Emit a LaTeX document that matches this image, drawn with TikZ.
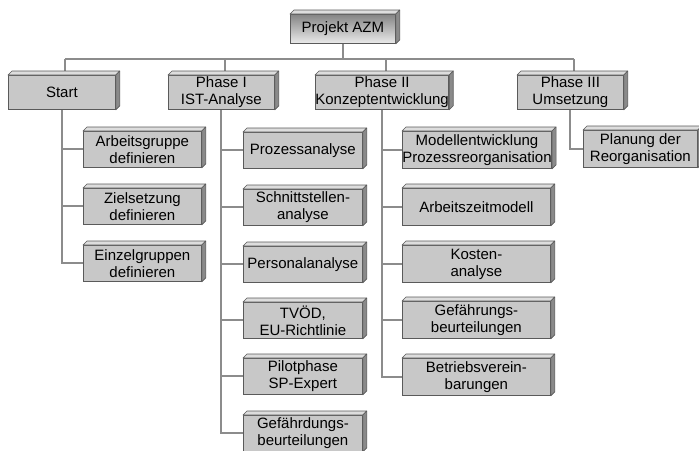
\documentclass[tikz,border=0pt]{standalone}
\usepackage{fontspec}
\setmainfont{Liberation Sans}
\definecolor{linegray}{HTML}{8C8C8C}
\definecolor{boxface}{HTML}{C8C8C8}
\definecolor{boxedge}{HTML}{5A5A5A}
\definecolor{bevtop}{HTML}{DDDDDD}
\definecolor{bevside}{HTML}{8A8A8A}
\pgfdeclarelayer{bg}
\pgfsetlayers{bg,main}
\tikzset{
  conn/.style={draw=linegray, line width=2pt},
  box/.style={draw=boxedge, fill=boxface, line width=0.8pt, anchor=north west,
    inner sep=0pt, align=center, font=\fontsize{15}{17}\selectfont},
  topbox/.style={box, top color=black!48, bottom color=black!8},
  bevel/.style={draw=boxedge, line width=0.6pt, line join=round},
}
\newcommand\bevelbox[1]{%
  \filldraw[bevel, fill=bevtop] (#1.north west) -- ++(4,-4) -- ([shift={(4,-4)}]#1.north east) -- (#1.north east) -- cycle;
  \filldraw[bevel, fill=bevside] (#1.north east) -- ++(4,-4) -- ([shift={(4,-4)}]#1.south east) -- (#1.south east) -- cycle;
}
\begin{document}
\begin{tikzpicture}[x=1pt, y=-1pt]
\useasboundingbox (0,0) rectangle (699,450);
% nodes
\node[topbox, minimum width=105pt, minimum height=29pt] (top) at (290,14) {Projekt AZM};
\node[box, minimum width=107pt, minimum height=34pt] (p0) at (8,75) {Start};
\node[box, minimum width=106pt, minimum height=34pt] (p1) at (168,75) {Phase I\\IST-Analyse};
\node[box, minimum width=127pt, minimum height=34pt] (p2) at (315,75) {Phase II\\Konzeptentwicklung};
\node[box, minimum width=106pt, minimum height=34pt] (p3) at (517,75) {Phase III\\Umsetzung};
% Start children
\node[box, minimum width=118pt, minimum height=36pt] (s1) at (83,131) {Arbeitsgruppe\\definieren};
\node[box, minimum width=118pt, minimum height=36pt] (s2) at (83,188) {Zielsetzung\\definieren};
\node[box, minimum width=118pt, minimum height=36pt] (s3) at (83,245) {Einzelgruppen\\definieren};
% Phase I children
\node[box, minimum width=119pt, minimum height=36pt] (a1) at (243,132) {Prozessanalyse};
\node[box, minimum width=119pt, minimum height=36pt] (a2) at (243,189) {Schnittstellen-\\analyse};
\node[box, minimum width=119pt, minimum height=36pt] (a3) at (243,246) {Personalanalyse};
\node[box, minimum width=119pt, minimum height=36pt] (a4) at (243,302) {TVÖD,\\EU-Richtlinie};
\node[box, minimum width=119pt, minimum height=36pt] (a5) at (243,358) {Pilotphase\\SP-Expert};
\node[box, minimum width=119pt, minimum height=36pt] (a6) at (243,415) {Gefährdungs-\\beurteilungen};
% Phase II children
\node[box, minimum width=148pt, minimum height=37pt] (b1) at (402,131) {Modellentwicklung\\Prozessreorganisation};
\node[box, minimum width=148pt, minimum height=37pt] (b2) at (402,188) {Arbeitszeitmodell};
\node[box, minimum width=148pt, minimum height=37pt] (b3) at (402,245) {Kosten-\\analyse};
\node[box, minimum width=148pt, minimum height=37pt] (b4) at (402,301) {Gefährungs-\\beurteilungen};
\node[box, minimum width=148pt, minimum height=37pt] (b5) at (402,358) {Betriebsverein-\\barungen};
% Phase III child
\node[box, minimum width=114pt, minimum height=37pt] (c1) at (583,130) {Planung der\\Reorganisation};
% bevels
\foreach \n in {top,p0,p1,p2,p3,s1,s2,s3,a1,a2,a3,a4,a5,a6,b1,b2,b3,b4,b5,c1} {\bevelbox{\n}}
% connectors
\begin{pgfonlayer}{bg}
\coordinate (busL) at ([xshift=3.5pt]p0.north |- 0,59);
\coordinate (busR) at ([xshift=3.5pt]p3.north |- 0,59);
\draw[conn] (busL) -- (busR);
\draw[conn] (top.south) -- (top.south |- busL);
\foreach \p in {p0,p1,p2,p3}
  \draw[conn] ([xshift=3.5pt]\p.north |- busL) -- ([xshift=3.5pt]\p.north);
\draw[conn] (p0.south) -- (p0.south |- s3.west) -- (s3.west);
\foreach \c in {s1,s2} \draw[conn] (p0.south |- \c.west) -- (\c.west);
\draw[conn] (p1.south) -- (p1.south |- a6.west) -- (a6.west);
\foreach \c in {a1,a2,a3,a4,a5} \draw[conn] (p1.south |- \c.west) -- (\c.west);
\draw[conn] (p2.south) -- (p2.south |- b5.west) -- (b5.west);
\foreach \c in {b1,b2,b3,b4} \draw[conn] (p2.south |- \c.west) -- (\c.west);
\draw[conn] (p3.south) -- (p3.south |- c1.west) -- (c1.west);
\end{pgfonlayer}
\end{tikzpicture}
\end{document}
